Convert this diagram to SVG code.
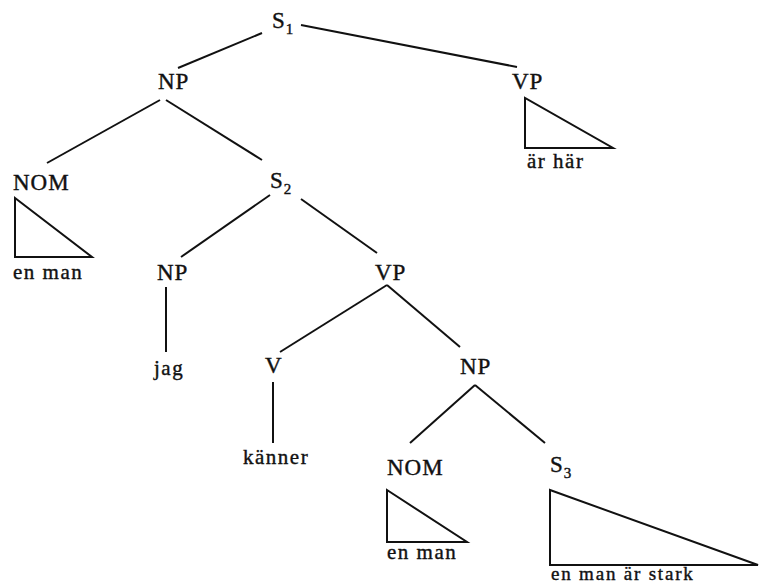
<svg xmlns="http://www.w3.org/2000/svg" width="760" height="585" viewBox="0 0 760 585">
<style>
text{font-family:"Liberation Serif","Times New Roman",serif;fill:#111;stroke:#111;stroke-width:0.4}
.c{font-size:23px;letter-spacing:1px}
.w{font-size:21px;letter-spacing:1.5px}
.s{font-size:15px;letter-spacing:0}
.b{font-size:19px;letter-spacing:1.8px}
line,polygon{stroke:#111;stroke-width:2;fill:none}
</style>
<rect width="760" height="585" fill="#fff"/>
<g id="connectors">
<line x1="262" y1="33" x2="178" y2="68"/>
<line x1="301" y1="25" x2="517" y2="67"/>
<line x1="160" y1="100" x2="47" y2="163"/>
<line x1="166" y1="100" x2="262" y2="160"/>
<line x1="270" y1="195" x2="181" y2="257"/>
<line x1="301" y1="199" x2="377" y2="253"/>
<line x1="166" y1="287" x2="166" y2="352"/>
<line x1="387" y1="285" x2="280" y2="352"/>
<line x1="387" y1="285" x2="460" y2="347"/>
<line x1="273" y1="382" x2="273" y2="443"/>
<line x1="475" y1="385" x2="410" y2="443"/>
<line x1="475" y1="385" x2="545" y2="443"/>
</g>
<g id="S1"><text class="c" x="272" y="28">S<tspan class="s" dy="6">1</tspan></text></g>
<g id="NP1"><text class="c" x="158" y="89">NP</text></g>
<g id="VP1"><text class="c" x="512" y="89">VP</text></g>
<g id="VP1-tri"><polygon points="525,98 525,148 613,148"/><text class="w" x="527" y="168">är här</text></g>
<g id="NOM1"><text class="c" x="13" y="190">NOM</text></g>
<g id="NOM1-tri"><polygon points="15,198 15,257 92,257"/><text class="w" x="13" y="279">en man</text></g>
<g id="S2"><text class="c" x="270" y="188">S<tspan class="s" dy="6">2</tspan></text></g>
<g id="NP2"><text class="c" x="157" y="280">NP</text></g>
<g id="VP2"><text class="c" x="375" y="280">VP</text></g>
<g id="jag"><text class="w" x="154" y="375">jag</text></g>
<g id="V"><text class="c" x="265" y="373">V</text></g>
<g id="NP3"><text class="c" x="460" y="374">NP</text></g>
<g id="kanner"><text class="w" x="243" y="464">känner</text></g>
<g id="NOM2"><text class="c" x="387" y="475">NOM</text></g>
<g id="NOM2-tri"><polygon points="387,490 387,542 467,542"/><text class="w" x="387" y="559">en man</text></g>
<g id="S3"><text class="c" x="550" y="472">S<tspan class="s" dy="6">3</tspan></text></g>
<g id="S3-tri"><polygon points="550,490 550,565 758,565"/><text class="b" x="551" y="580">en man är stark</text></g>
</svg>
